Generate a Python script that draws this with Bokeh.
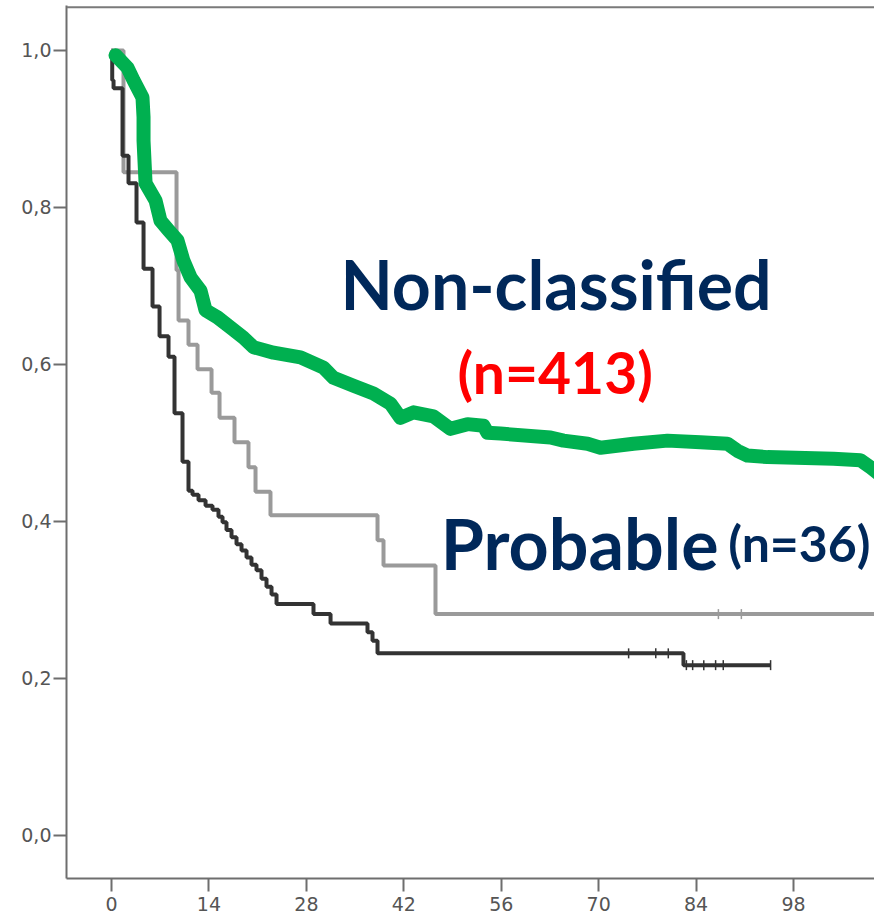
import numpy as np
from bokeh.plotting import figure
from bokeh.models import FixedTicker, CustomJSTickFormatter, Span
from bokeh.core.properties import value
from bokeh.embed import file_html
from bokeh.resources import INLINE

# ---- data ----
x_ticks = [0, 14, 28, 42, 56, 70, 84, 98]
y_ticks = [0.0, 0.2, 0.4, 0.6, 0.8, 1.0]

# dark step curve
black_time = [0, 0.1, 0.29, 1.58, 2.44, 3.59, 4.60, 5.89, 6.90, 8.19, 9.05, 10.20,
              11.06, 11.64, 12.50, 13.51, 14.51, 15.37, 15.95, 16.52, 17.24, 17.96,
              18.68, 19.40, 20.11, 20.83, 21.55, 22.27, 22.99, 23.71, 29.02, 31.47,
              36.78, 37.50, 38.22, 82.18, 94.68]
black_surv = [1.0, 0.962, 0.952, 0.866, 0.831, 0.781, 0.722, 0.674, 0.636, 0.610, 0.538,
              0.476, 0.439, 0.434, 0.427, 0.420, 0.415, 0.406, 0.399, 0.389, 0.380,
              0.371, 0.363, 0.354, 0.345, 0.338, 0.327, 0.317, 0.307, 0.295, 0.282,
              0.270, 0.259, 0.248, 0.232, 0.217, 0.217]
black_cens_time = [74.3, 78.2, 80.0, 82.6, 83.5, 85.1, 86.8, 87.9, 94.7]
black_cens_surv = [0.232, 0.232, 0.232, 0.217, 0.217, 0.217, 0.217, 0.217, 0.217]

# grey step curve: Probable (n=36)
gray_time = [0, 1.72, 9.34, 9.63, 11.06, 12.36, 14.37, 15.52, 17.67, 19.68, 20.69,
             22.84, 38.22, 39.08, 46.55, 112.0]
gray_surv = [1.0, 0.845, 0.720, 0.656, 0.625, 0.594, 0.564, 0.532, 0.501, 0.469, 0.438,
             0.408, 0.376, 0.344, 0.282, 0.282]
gray_cens_time = [87.2, 90.5]
gray_cens_surv = [0.282, 0.282]

# green hand-drawn curve: Non-classified (n=413)
green_time = [0.57, 2.30, 3.16, 4.45, 4.60, 4.60, 4.89, 6.32, 7.04, 8.19, 9.48, 10.34,
              11.35, 12.79, 13.51, 15.23, 17.10, 18.97, 20.40, 23.28, 27.16, 30.46,
              31.90, 34.77, 37.64, 40.09, 41.52, 43.39, 46.26, 48.71, 51.15, 53.45,
              54.02, 55.89, 63.07, 64.94, 68.39, 70.26, 75.0, 79.89, 84.63, 88.51,
              89.94, 91.38, 94.25, 103.74, 107.61, 109.05, 110.78]
green_surv = [0.994, 0.978, 0.962, 0.940, 0.915, 0.885, 0.831, 0.809, 0.783, 0.771,
              0.758, 0.732, 0.711, 0.694, 0.669, 0.660, 0.647, 0.634, 0.622, 0.615,
              0.609, 0.596, 0.583, 0.573, 0.563, 0.550, 0.532, 0.539, 0.534, 0.518,
              0.524, 0.522, 0.513, 0.512, 0.507, 0.503, 0.499, 0.494, 0.499, 0.503,
              0.501, 0.499, 0.490, 0.484, 0.482, 0.480, 0.478, 0.469, 0.457]

# ---- figure ----
p = figure(width=874, height=918, x_range=(-6.47, 109.63), y_range=(-0.0548, 1.0573),
           output_backend="svg", toolbar_location=None,
           min_border_left=66, min_border_right=0, min_border_top=5, min_border_bottom=40)
p.grid.visible = False
p.outline_line_color = None
p.background_fill_color = "white"
p.border_fill_color = "white"

for ax in (p.xaxis[0], p.yaxis[0]):
    ax.axis_line_color = "#6e6e6e"
    ax.axis_line_width = 2
    ax.major_tick_line_color = "#6e6e6e"
    ax.major_tick_line_width = 2
    ax.major_tick_in = 0
    ax.minor_tick_line_color = None
    ax.major_label_text_font = "DejaVu Sans"
    ax.major_label_text_font_size = "19px"
    ax.major_label_text_color = "#555555"

p.xaxis.ticker = FixedTicker(ticks=x_ticks)
p.xaxis.major_tick_out = 13
p.xaxis.major_label_standoff = 5
p.yaxis.ticker = FixedTicker(ticks=y_ticks)
p.yaxis.major_tick_out = 13
p.yaxis.major_label_standoff = 2
p.yaxis.formatter = CustomJSTickFormatter(code="return tick.toFixed(1).replace('.', ',');")

p.add_layout(Span(location=1.055, dimension="width", line_color="#7a7a7a", line_width=2))

p.step(gray_time, gray_surv, mode="after", line_color="#9a9a9a", line_width=4)
p.scatter(gray_cens_time, gray_cens_surv, marker="dash", angle=np.pi / 2, size=10,
          line_color="#9a9a9a", line_width=1.5)
p.step(black_time, black_surv, mode="after", line_color="#333333", line_width=4)
p.scatter(black_cens_time, black_cens_surv, marker="dash", angle=np.pi / 2, size=10,
          line_color="#333333", line_width=1.5)
p.line(green_time, green_surv, line_color="#00B050", line_width=14,
       line_cap="round", line_join="round")

navy = "#00285A"
p.text(x=[32.9], y=[0.703], text=["Non-classified"], text_font=value("Lato"),
       text_font_style="bold", text_font_size="68px", text_color=navy,
       text_baseline="alphabetic", text_align="left")
p.text(x=[49.7], y=[0.590], text=["(n=413)"], text_font=value("Lato"),
       text_font_style="bold", text_font_size="57px", text_color="#FF0000",
       text_baseline="alphabetic", text_align="left")
p.text(x=[47.3], y=[0.372], text=["Probable"], text_font=value("Lato"),
       text_font_style="bold", text_font_size="70px", text_color=navy,
       text_baseline="alphabetic", text_align="left")
p.text(x=[88.6], y=[0.372], text=["(n=36)"], text_font=value("Lato"),
       text_font_style="bold", text_font_size="50px", text_color=navy,
       text_baseline="alphabetic", text_align="left")

open("out.html", "w").write(file_html(p, INLINE))
